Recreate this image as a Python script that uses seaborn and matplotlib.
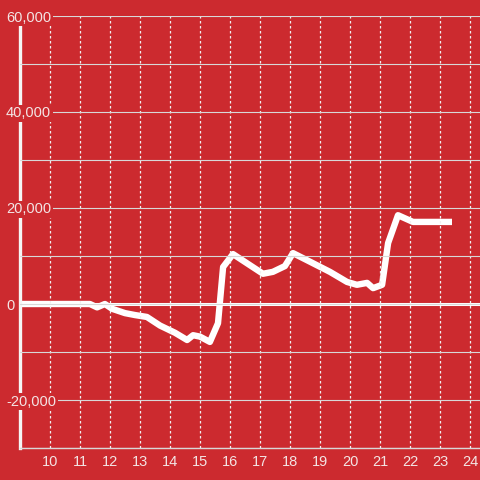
import matplotlib
matplotlib.use("Agg")
import matplotlib.pyplot as plt
import seaborn as sns
import pandas as pd
from matplotlib.ticker import FuncFormatter, MultipleLocator

hours = [9.0, 11.33, 11.57, 11.83, 12.07, 12.5, 12.83, 13.23, 13.67, 14.17,
         14.57, 14.77, 15.0, 15.33, 15.6, 15.77, 16.1, 17.1, 17.43, 17.83,
         18.1, 18.67, 19.33, 19.9, 20.23, 20.57, 20.77, 21.07, 21.27, 21.6,
         22.1, 23.4]
values = [0, 0, -700, 0, -1000, -1900, -2300, -2700, -4500, -6000,
          -7500, -6500, -6800, -7900, -4000, 7700, 10400, 6300, 6700, 7900,
          10600, 8800, 6700, 4600, 4000, 4400, 3300, 4000, 12700, 18500,
          17100, 17100]
x_ticks = list(range(10, 25))
y_ticks = [-20000, 0, 20000, 40000, 60000]

bg = "#cc2a2f"
txt = "#f3e4e4"

sns.set_style("white", {"axes.facecolor": bg, "figure.facecolor": bg})
plt.rcParams["font.family"] = ["Liberation Sans", "DejaVu Sans"]

df = pd.DataFrame({"hour": hours, "value": values})

fig = plt.figure(figsize=(4.8, 4.8), dpi=100)
ax = fig.add_axes([20 / 480, 32 / 480, 460 / 480, 432 / 480])

sns.lineplot(data=df, x="hour", y="value", ax=ax, color="white", lw=4.6,
             solid_joinstyle="round", solid_capstyle="butt", zorder=2.3)
ax.axhline(0, color="white", lw=2.2, zorder=2.2)

ax.set_xlim(9, 9 + 460 / 30)
ax.set_ylim(-30000, 60000)
ax.set_xticks(x_ticks)
ax.set_yticks(y_ticks)
ax.yaxis.set_minor_locator(MultipleLocator(10000))
ax.yaxis.set_major_formatter(FuncFormatter(lambda v, p: f"{int(v):,}"))
ax.set_xlabel("")
ax.set_ylabel("")

ax.set_axisbelow(False)
ax.grid(axis="x", color="#f0f0f0", lw=0.9, ls=(0, (2, 2)))
ax.grid(axis="y", which="both", color="#d8d8d8", lw=0.8)

ax.tick_params(axis="x", length=0, labelsize=10.5, labelcolor=txt, pad=5)
ax.tick_params(axis="y", which="both", length=0, labelsize=10.5,
               labelcolor=txt, pad=10)
for lab in ax.get_yticklabels():
    lab.set_ha("left")
    lab.set_bbox(dict(facecolor=bg, edgecolor="none", pad=1.2))

for s in ["top", "right"]:
    ax.spines[s].set_visible(False)
ax.spines["left"].set_color("#f5f5f5")
ax.spines["left"].set_linewidth(2.4)
ax.spines["bottom"].set_color("#d8d8d8")
ax.spines["bottom"].set_linewidth(1.0)

fig.savefig("out.png", dpi=100, facecolor=bg)
